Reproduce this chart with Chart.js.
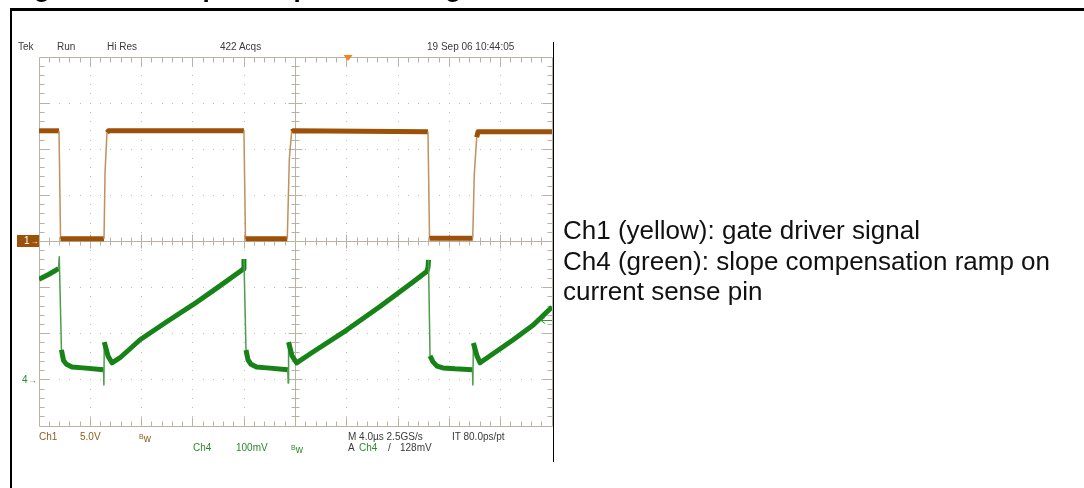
<!DOCTYPE html>
<html>
<head>
<meta charset="utf-8">
<title>Slope compensation ramp</title>
<script src="https://cdn.jsdelivr.net/npm/chart.js@4.4.1/dist/chart.umd.min.js"></script>
<style>
  body { margin: 0; background: #fff; }
  #wrap { position: relative; width: 1084px; height: 488px; overflow: hidden; font-family: "Liberation Sans", Arial, sans-serif; }
  #scope { position: absolute; left: 0; top: 0; }
  .t { position: absolute; white-space: nowrap; font-size: 10px; line-height: 10px; color: #3a3a3a; }
  .brown { color: #8e5c1e; }
  .green { color: #2a8a2a; }
  .hdr { top: 42px; }
  .row1 { top: 432px; }
  .row2 { top: 443px; }
  .sup { font-size: 7px; vertical-align: 3px; }
  #title { position: absolute; top: -25px; left: 11px; font-weight: bold; font-size: 26px; line-height: 26px; white-space: nowrap; color: #000; }
  #frameTop { position: absolute; left: 10px; top: 8px; width: 1074px; height: 3px; background: #000; }
  #frameLeft { position: absolute; left: 10px; top: 8px; width: 2px; height: 480px; background: #000; }
  #shotEdge { position: absolute; left: 553px; top: 42px; width: 1px; height: 420px; background: #000; }
  #notes { position: absolute; left: 563px; top: 215px; font-size: 26px; line-height: 30.5px; color: #111; white-space: nowrap; }
  #gnd1 { position: absolute; left: 17px; top: 235px; width: 22px; height: 12px; background: #9c5008; color: #fff; font-size: 10px; line-height: 12px; }
  #gnd4 { position: absolute; left: 22px; top: 375px; color: #2a8a2a; font-size: 10px; line-height: 10px; }
</style>
</head>
<body>
<div id="wrap">
  <canvas id="scope" width="1084" height="488"></canvas>

  <div id="title"><span>Figure 6.</span><span style="position:absolute;left:151px">Slope compensation signal</span></div>
  <div id="frameTop"></div>
  <div id="frameLeft"></div>
  <div id="shotEdge"></div>

  <!-- status line of the scope -->
  <div class="t hdr" style="left:18px">Tek</div>
  <div class="t hdr" style="left:57px">Run</div>
  <div class="t hdr" style="left:107px">Hi Res</div>
  <div class="t hdr" style="left:220px">422 Acqs</div>
  <div class="t hdr" style="left:427px">19 Sep 06 10:44:05</div>

  <!-- channel readouts -->
  <div class="t row1 brown" style="left:39px">Ch1</div>
  <div class="t row1 brown" style="left:80px">5.0V</div>
  <div class="t row1 brown" style="left:139px"><span class="sup">B</span>w</div>
  <div class="t row1" style="left:348px">M 4.0µs 2.5GS/s</div>
  <div class="t row1" style="left:452px">IT 80.0ps/pt</div>
  <div class="t row2 green" style="left:193px">Ch4</div>
  <div class="t row2 green" style="left:236px">100mV</div>
  <div class="t row2 green" style="left:291px"><span class="sup">B</span>w</div>
  <div class="t row2" style="left:348px">A</div>
  <div class="t row2 green" style="left:359px">Ch4</div>
  <div class="t row2" style="left:388px">/</div>
  <div class="t row2" style="left:400px">128mV</div>

  <div id="gnd1"><span style="margin-left:7px">1</span><span style="font-size:8px;margin-left:1px">→</span></div>
  <div id="gnd4">4<span style="font-size:8px;margin-left:1px">→</span></div>

  <div id="notes">Ch1 (yellow): gate driver signal<br>Ch4 (green): slope compensation ramp on<br>current sense pin</div>
</div>

<script>
// Setelan skop
const timePerDiv = 4;        // µs per divisi
const ch1VoltsPerDiv = 5;    // V per divisi
const ch4MvPerDiv = 100;     // mV per divisi
const triggerTime = 24.1;    // µs, posisi segitiga oranye
const triggerLevel = 128;    // mV, pada Ch4

// Ch1: sinyal gate driver (µs, V)
const ch1Time = [0, 1.56, 1.68, 5.07, 5.15, 5.30, 5.42, 15.98, 16.10, 19.36, 19.52, 19.70, 19.81, 30.33, 30.45, 33.82, 33.94, 34.13, 34.23, 40];
const ch1Volts = [12.0, 12.0, 0.3, 0.3, 7.5, 11.8, 12.0, 12.0, 0.3, 0.3, 9.0, 11.9, 12.0, 11.9, 0.35, 0.35, 7.3, 11.3, 11.9, 11.9];

// Ch4: ramp kompensasi slope (µs, mV)
const ch4Time = [
  0.00, 0.78, 1.52, 1.58, 1.75, 1.91, 2.14, 2.57, 3.43, 5.03, 5.06, 5.09, 5.38, 5.69,
  6.32, 7.88, 9.96, 12.01, 13.86, 15.67, 15.95, 15.98, 16.14, 16.30, 16.53, 16.96, 17.78,
  19.40, 19.43, 19.46, 19.73, 20.09, 21.39, 23.99, 26.59, 29.19, 30.23, 30.33, 30.37,
  30.49, 30.72, 31.03, 31.50, 32.44, 33.80, 33.83, 33.87, 34.15, 34.39, 36.98, 38.54, 40.00
];
const ch4Millivolts = [
  218, 229, 241, 267, 65, 42, 34, 28, 26, 22, -11, 82, 52, 37,
  48, 87, 126, 163, 199, 235, 241, 262, 65, 43, 34, 28, 26,
  22, -7, 82, 52, 37, 61, 108, 159, 213, 235, 243, 260,
  52, 39, 30, 26, 24, 22, -11, 80, 52, 37, 87, 119, 158
];

const ch1Points = ch1Time.map((t, i) => ({ x: t, y: ch1Volts[i] }));
const ch4Points = ch4Time.map((t, i) => ({ x: t, y: ch4Millivolts[i] }));

// Sisi curam digambar tipis, bagian datar tebal
function isSteep(c) {
  const dx = Math.abs(c.p1.x - c.p0.x);
  const dy = Math.abs(c.p1.y - c.p0.y);
  return dy > 11 && dy > 4 * dx;
}

const gratColor = '#b9b2a5';
const dotColor = '#c6bfb2';

// Plugin graticule ala osiloskop
const graticule = {
  id: 'graticule',
  beforeDatasetsDraw(chart) {
    const { ctx, scales } = chart;
    const sx = scales.x, sy = scales.y1;
    const px = v => Math.floor(sx.getPixelForValue(v)) + 0.5;
    const py = v => Math.floor(sy.getPixelForValue(v)) + 0.5;
    const left = px(0), right = px(10 * timePerDiv);
    const top = py(4 * ch1VoltsPerDiv), bottom = py(-4 * ch1VoltsPerDiv);
    const cx = px(5 * timePerDiv), cy = py(0);

    ctx.save();
    // titik-titik grid
    ctx.fillStyle = dotColor;
    for (let i = 1; i < 10; i++) {
      if (i === 5) continue;
      const x = Math.floor(sx.getPixelForValue(i * timePerDiv));
      for (let j = 1; j < 40; j++) {
        const y = Math.floor(sy.getPixelForValue(-4 * ch1VoltsPerDiv + j * ch1VoltsPerDiv / 5));
        ctx.fillRect(x, y, 1, 1);
      }
    }
    for (let j = -3; j <= 3; j++) {
      if (j === 0) continue;
      const y = Math.floor(sy.getPixelForValue(j * ch1VoltsPerDiv));
      for (let i = 1; i < 50; i++) {
        const x = Math.floor(sx.getPixelForValue(i * timePerDiv / 5));
        ctx.fillRect(x, y, 1, 1);
      }
    }

    ctx.strokeStyle = gratColor;
    ctx.lineWidth = 1;
    ctx.beginPath();
    // garis tengah
    ctx.moveTo(left, cy); ctx.lineTo(right, cy);
    ctx.moveTo(cx, top); ctx.lineTo(cx, bottom);
    // bingkai
    ctx.rect(left, top, right - left, bottom - top);

    // tick horizontal (atas, bawah, tengah)
    for (let i = 1; i < 50; i++) {
      const x = px(i * timePerDiv / 5);
      const major = i % 5 === 0;
      const len = major ? 9 : 5;
      ctx.moveTo(x, top); ctx.lineTo(x, top + len);
      ctx.moveTo(x, bottom); ctx.lineTo(x, bottom - len);
      const c = major ? 7 : 4;
      ctx.moveTo(x, cy - c); ctx.lineTo(x, cy + c);
    }
    // tick vertikal (kiri, kanan, tengah)
    for (let j = 1; j < 40; j++) {
      const y = py(-4 * ch1VoltsPerDiv + j * ch1VoltsPerDiv / 5);
      const major = j % 5 === 0;
      const len = major ? 10 : 5;
      ctx.moveTo(left, y); ctx.lineTo(left + len, y);
      ctx.moveTo(right, y); ctx.lineTo(right - len, y);
      const c = major ? 7 : 4;
      ctx.moveTo(cx - c, y); ctx.lineTo(cx + c, y);
    }
    ctx.stroke();
    ctx.restore();
  },
  afterDatasetsDraw(chart) {
    const { ctx, chartArea: a, scales } = chart;
    ctx.save();
    // penanda posisi trigger (segitiga oranye)
    const tx = scales.x.getPixelForValue(triggerTime);
    ctx.fillStyle = '#f58025';
    ctx.beginPath();
    ctx.moveTo(tx - 4.5, a.top - 2);
    ctx.lineTo(tx + 4.5, a.top - 2);
    ctx.lineTo(tx, a.top + 4);
    ctx.closePath();
    ctx.fill();
    // penanda level trigger Ch4
    const ly = Math.floor(scales.y4.getPixelForValue(triggerLevel)) + 0.5;
    ctx.strokeStyle = '#3a963a';
    ctx.lineWidth = 1;
    ctx.beginPath();
    ctx.moveTo(a.right - 11, ly); ctx.lineTo(a.right, ly);
    ctx.moveTo(a.right - 11, ly); ctx.lineTo(a.right - 7, ly - 3);
    ctx.moveTo(a.right - 11, ly); ctx.lineTo(a.right - 7, ly + 3);
    ctx.stroke();
    ctx.restore();
  }
};

new Chart(document.getElementById('scope'), {
  type: 'line',
  data: {
    datasets: [
      {
        label: 'Ch1',
        data: ch1Points,
        yAxisID: 'y1',
        borderColor: '#9c5008',
        borderWidth: 5,
        borderJoinStyle: 'round',
        pointRadius: 0,
        tension: 0,
        segment: {
          borderWidth: c => isSteep(c) ? 1.5 : 5,
          borderColor: c => isSteep(c) ? '#c0915c' : '#9c5008'
        }
      },
      {
        label: 'Ch4',
        data: ch4Points,
        yAxisID: 'y4',
        borderColor: '#178217',
        borderWidth: 5,
        borderJoinStyle: 'round',
        pointRadius: 0,
        tension: 0,
        segment: {
          borderWidth: c => isSteep(c) ? 1.5 : 5,
          borderColor: c => isSteep(c) ? '#4d9d4d' : '#178217'
        }
      }
    ]
  },
  options: {
    responsive: false,
    animation: false,
    events: [],
    layout: { padding: { left: 39, top: 57, right: 532, bottom: 62 } },
    plugins: { legend: { display: false }, tooltip: { enabled: false } },
    scales: {
      x: { type: 'linear', display: false, min: 0, max: 10 * timePerDiv },
      y1: { type: 'linear', display: false, min: -4 * ch1VoltsPerDiv, max: 4 * ch1VoltsPerDiv },
      y4: { type: 'linear', display: false, min: -1 * ch4MvPerDiv, max: 7 * ch4MvPerDiv }
    }
  },
  plugins: [graticule]
});
</script>
</body>
</html>
